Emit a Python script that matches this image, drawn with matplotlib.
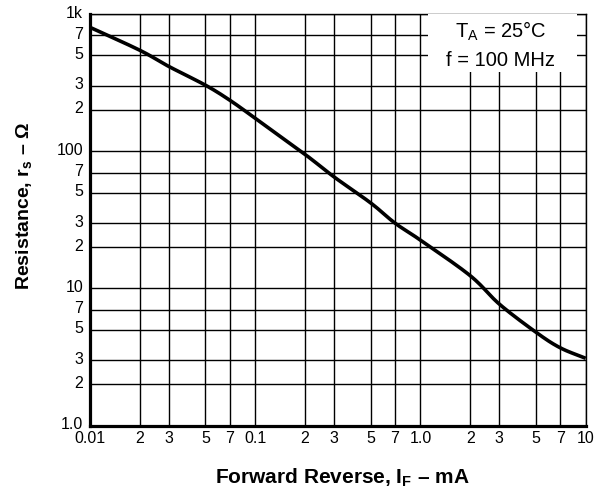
import numpy as np
import matplotlib
matplotlib.use("Agg")
import matplotlib.pyplot as plt
import matplotlib.transforms as mtransforms
from matplotlib.ticker import FixedLocator, NullLocator
from matplotlib.patches import Rectangle

plt.rcParams['font.family'] = ['Liberation Sans', 'DejaVu Sans']
plt.rcParams['mathtext.fontset'] = 'custom'
plt.rcParams['mathtext.rm'] = 'Liberation Sans'
plt.rcParams['mathtext.it'] = 'Liberation Sans'
plt.rcParams['mathtext.bf'] = 'Liberation Sans:bold'

# curve
current_ma = [0.01, 0.02, 0.03, 0.05, 0.07, 0.1, 0.2, 0.3, 0.5, 0.7, 1.0, 2.0, 3.0, 5.0, 7.0, 10.0]
resistance = [800, 545, 415, 303, 236, 174, 95, 65, 42, 30, 22.5, 12.4, 7.7, 4.8, 3.7, 3.1]

x_ticks = [0.01, 0.02, 0.03, 0.05, 0.07, 0.1, 0.2, 0.3, 0.5, 0.7, 1.0, 2, 3, 5, 7, 10]
x_labels = ["0.01", "2", "3", "5", "7", "0.1", "2", "3", "5", "7", "1.0", "2", "3", "5", "7", "10"]
y_ticks = [1, 2, 3, 5, 7, 10, 20, 30, 50, 70, 100, 200, 300, 500, 700, 1000]
y_labels = ["1.0", "2", "3", "5", "7", "10", "2", "3", "5", "7", "100", "2", "3", "5", "7", "1k"]


def catmull_rom(px, py, n=20):
    # smooth curve through the points, in log space
    px = np.concatenate([[2 * px[0] - px[1]], px, [2 * px[-1] - px[-2]]])
    py = np.concatenate([[2 * py[0] - py[1]], py, [2 * py[-1] - py[-2]]])
    ox, oy = [], []
    t = np.linspace(0, 1, n, endpoint=False)
    for i in range(1, len(px) - 2):
        for arr, out in ((px, ox), (py, oy)):
            p0, p1, p2, p3 = arr[i - 1], arr[i], arr[i + 1], arr[i + 2]
            out.extend(0.5 * (2 * p1 + (-p0 + p2) * t + (2 * p0 - 5 * p1 + 4 * p2 - p3) * t ** 2
                              + (-p0 + 3 * p1 - 3 * p2 + p3) * t ** 3))
    ox.append(px[-2])
    oy.append(py[-2])
    return np.array(ox), np.array(oy)


fig = plt.figure(figsize=(5.96, 4.93), dpi=100)
ax = fig.add_axes([0.151, 0.1365, 0.8317, 0.835])

sx, sy = catmull_rom(np.log10(current_ma), np.log10(resistance))
ax.plot(10 ** sx, 10 ** sy, color='black', lw=2.6, zorder=4, solid_capstyle='butt')

ax.set_xscale('log')
ax.set_yscale('log')
ax.set_xlim(0.01, 10)
ax.set_ylim(1, 1000)

ax.xaxis.set_major_locator(FixedLocator(x_ticks))
ax.xaxis.set_minor_locator(NullLocator())
ax.set_xticklabels(x_labels)
ax.yaxis.set_major_locator(FixedLocator(y_ticks))
ax.yaxis.set_minor_locator(NullLocator())
ax.set_yticklabels(y_labels)
ax.tick_params(length=0, labelsize=11.5)
ax.tick_params(axis='x', pad=3.5)
ax.tick_params(axis='y', pad=5)

# nudge y labels up a little, like the original
lift = mtransforms.ScaledTranslation(0, 2.5 / 100, fig.dpi_scale_trans)
for tick in ax.yaxis.get_major_ticks():
    tick.label1.set_transform(tick.label1.get_transform() + lift)

ax.grid(True, which='major', color='black', lw=1.0)
ax.set_axisbelow(True)
for s in ['top', 'right']:
    ax.spines[s].set_linewidth(1.0)
for s in ['left', 'bottom']:
    ax.spines[s].set_linewidth(2.3)

# white label box hiding the grid
ax.add_patch(Rectangle((0.681, 0.859), 0.301, 0.141, transform=ax.transAxes,
                       facecolor='white', edgecolor='none', zorder=3))
ax.text(0.829, 0.957, "T$_\\mathrm{A}$ = 25°C", transform=ax.transAxes,
        ha='center', va='center', fontsize=14.5, zorder=5)
ax.text(0.829, 0.888, "f = 100 MHz", transform=ax.transAxes,
        ha='center', va='center', fontsize=14.5, zorder=5)

ax.set_xlabel(r"Forward Reverse, I$_\mathbf{F}$ – mA", fontsize=15, fontweight='bold')
ax.set_ylabel(r"Resistance, r$_\mathbf{s}$ – Ω", fontsize=14, fontweight='bold')
ax.xaxis.set_label_coords(0.51, -0.1)
ax.yaxis.set_label_coords(-0.113, 0.535)

fig.savefig("out.png", dpi=100)
